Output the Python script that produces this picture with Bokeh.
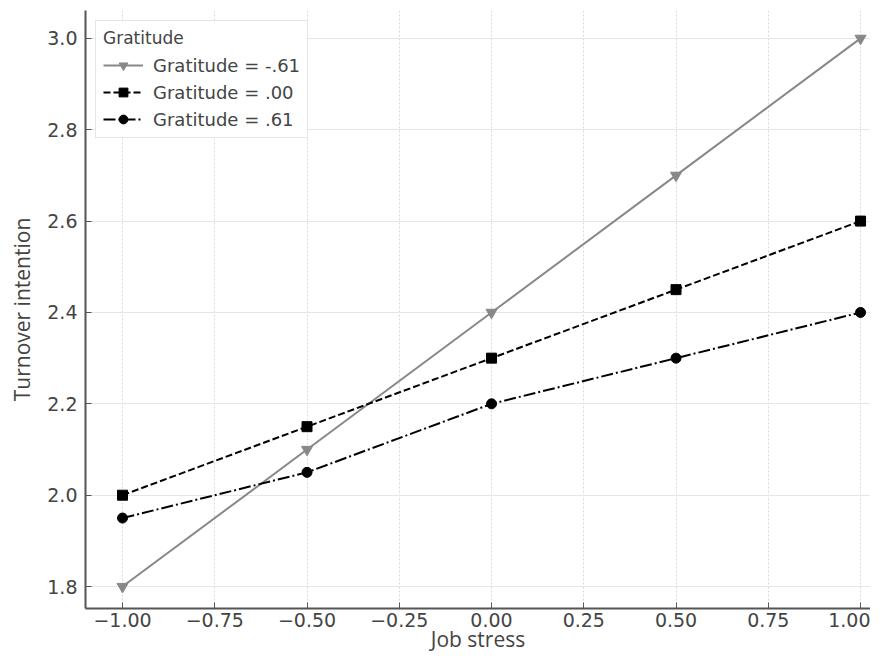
from bokeh.plotting import figure
from bokeh.embed import file_html
from bokeh.resources import INLINE
from bokeh.models import Range1d, FixedTicker, Legend

job_stress = [-1.0, -0.5, 0.0, 0.5, 1.0]
grat_low = [1.8, 2.1, 2.4, 2.7, 3.0]
grat_mid = [2.0, 2.15, 2.3, 2.45, 2.6]
grat_high = [1.95, 2.05, 2.2, 2.3, 2.4]
series_labels = ["Gratitude = -.61", "Gratitude = .00", "Gratitude = .61"]
x_ticks = [-1.0, -0.75, -0.5, -0.25, 0.0, 0.25, 0.5, 0.75, 1.0]
y_ticks = [1.8, 2.0, 2.2, 2.4, 2.6, 2.8, 3.0]

p = figure(width=870, height=655, output_backend="svg", toolbar_location=None,
           x_range=Range1d(-1.1003, 1.027), y_range=Range1d(1.752, 3.061),
           min_border_left=85, min_border_top=10, min_border_bottom=42, min_border_right=0)
p.outline_line_color = None
p.background_fill_color = "white"

r1 = p.line(job_stress, grat_low, line_color="#888888", line_width=2)
s1 = p.scatter(job_stress, grat_low, marker="inverted_triangle", size=11,
               fill_color="#888888", line_color="#888888")
r2 = p.line(job_stress, grat_mid, line_color="black", line_width=2, line_dash="7 3")
s2 = p.scatter(job_stress, grat_mid, marker="square", size=10,
               fill_color="black", line_color="black")
r3 = p.line(job_stress, grat_high, line_color="black", line_width=2, line_dash="12 3 2 3")
s3 = p.scatter(job_stress, grat_high, marker="circle", size=10,
               fill_color="black", line_color="black")

legend = Legend(items=[(series_labels[0], [r1, s1]),
                       (series_labels[1], [r2, s2]),
                       (series_labels[2], [r3, s3])],
                location="top_left", title="Gratitude")
legend.title_text_font = "DejaVu Sans"
legend.title_text_font_size = "17px"
legend.title_text_font_style = "normal"
legend.title_text_color = "#444444"
legend.title_standoff = 6
legend.label_text_font = "DejaVu Sans"
legend.label_text_font_size = "18px"
legend.label_text_color = "#444444"
legend.border_line_color = "#cccccc"
legend.border_line_width = 1
legend.background_fill_alpha = 0.9
legend.glyph_width = 40
legend.glyph_height = 22
legend.label_height = 22
legend.spacing = 5
legend.padding = 7
legend.margin = 10
legend.label_standoff = 10
p.add_layout(legend)

p.xaxis.ticker = FixedTicker(ticks=x_ticks)
p.yaxis.ticker = FixedTicker(ticks=y_ticks)
p.xaxis.major_label_overrides = {t: ("%.2f" % t).replace("-", "\u2212") for t in x_ticks}
p.yaxis.major_label_overrides = {t: "%.1f" % t for t in y_ticks}

for ax in (p.xaxis[0], p.yaxis[0]):
    ax.axis_line_color = "#555555"
    ax.axis_line_width = 2
    ax.major_tick_in = 6
    ax.major_tick_out = 0
    ax.major_tick_line_color = "#555555"
    ax.minor_tick_line_color = None
    ax.major_label_text_font = "DejaVu Sans"
    ax.major_label_text_font_size = "19px"
    ax.major_label_text_color = "#444444"
    ax.axis_label_text_font = "Open Sans"
    ax.axis_label_text_font_size = "21px"
    ax.axis_label_text_font_style = "normal"
    ax.axis_label_text_color = "#444444"

p.xaxis.axis_label = "Job stress"
p.yaxis.axis_label = "Turnover intention"
p.xaxis.major_label_standoff = 4
p.xaxis.axis_label_standoff = -5
p.yaxis.major_label_standoff = 8
p.yaxis.axis_label_standoff = 8

p.xgrid.grid_line_color = "#d8d8d8"
p.xgrid.grid_line_dash = "2 2"
p.ygrid.grid_line_color = "#e6e6e6"

open("out.html", "w").write(file_html(p, INLINE))
